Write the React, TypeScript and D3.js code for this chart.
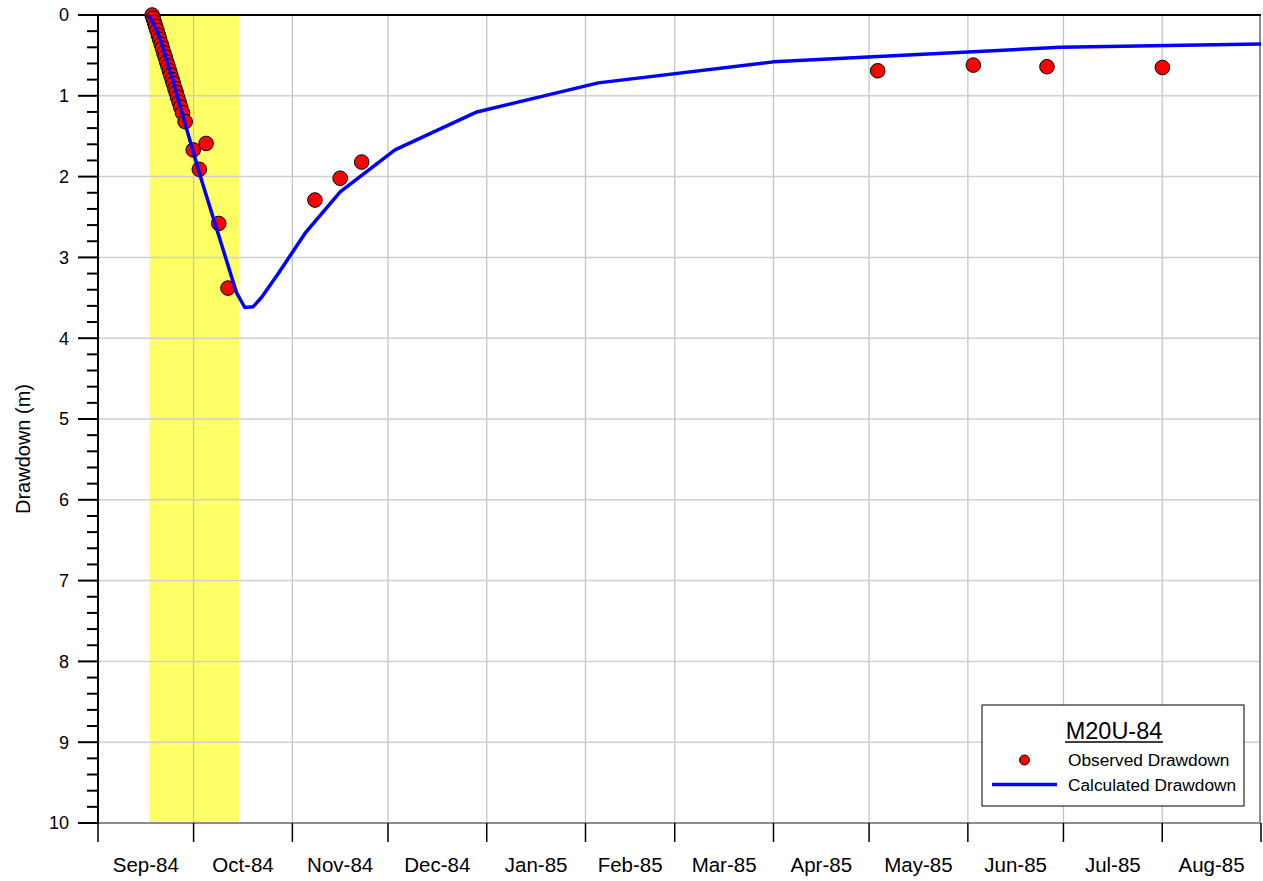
import React from "react";
import * as d3 from "d3";

const W = 1263;
const H = 881;

// Month tick labels (centered within each month)
const monthLabels = ["Sep-84", "Oct-84", "Nov-84", "Dec-84", "Jan-85", "Feb-85", "Mar-85", "Apr-85", "May-85", "Jun-85", "Jul-85", "Aug-85"];
const yTicks = [0, 1, 2, 3, 4, 5, 6, 7, 8, 9, 10];

// Pumping period (yellow band)
const pumpStart = "1984-09-17T02:00";
const pumpEnd = "1984-10-15T07:00";

// Observed drawdown (m)
const obsDates = [
  "1984-09-18T00:00", "1984-09-18T07:30", "1984-09-18T17:00", "1984-09-19T02:30", "1984-09-19T12:00",
  "1984-09-19T23:00", "1984-09-20T08:30", "1984-09-20T20:00", "1984-09-21T05:00", "1984-09-21T16:30",
  "1984-09-22T02:00", "1984-09-22T13:00", "1984-09-22T23:00", "1984-09-23T10:00", "1984-09-23T19:30",
  "1984-09-24T07:00", "1984-09-24T16:00", "1984-09-25T03:30", "1984-09-25T13:00", "1984-09-26T00:00",
  "1984-09-26T11:30", "1984-09-26T23:00", "1984-09-27T12:00", "1984-09-28T08:30",
  "1984-09-30T21:30", "1984-10-04T22:00", "1984-10-02T19:00", "1984-10-08T21:30", "1984-10-11T19:00",
  "1984-11-08T02:00", "1984-11-16T00:00", "1984-11-22T18:00",
  "1985-05-03T17:00", "1985-06-02T17:00", "1985-06-25T20:00", "1985-08-01T01:00",
];
const obsValues = [
  0.0, 0.04, 0.09, 0.14, 0.19,
  0.25, 0.3, 0.36, 0.41, 0.47,
  0.52, 0.58, 0.63, 0.69, 0.74,
  0.8, 0.85, 0.91, 0.96, 1.02,
  1.08, 1.14, 1.21, 1.32,
  1.67, 1.59, 1.91, 2.58, 3.38,
  2.29, 2.02, 1.82,
  0.69, 0.62, 0.64, 0.65,
];

// Calculated drawdown (m)
const calcDates = [
  "1984-09-16T19:00", "1984-09-18T12:00", "1984-09-20T11:00", "1984-09-24T15:00", "1984-09-28T07:00", "1984-10-03T00:00",
  "1984-10-14T12:00", "1984-10-17T02:00", "1984-10-19T17:00", "1984-10-22T10:00", "1984-10-27T14:00",
  "1984-11-05T00:00", "1984-11-16T00:00", "1984-12-03T05:00", "1984-12-28T22:00", "1985-02-05T00:00",
  "1985-04-01T00:00", "1985-06-30T00:00", "1985-09-01T00:00",
];
const calcValues = [
  0.0, 0.11, 0.29, 0.83, 1.34, 1.98,
  3.44, 3.62, 3.61, 3.49, 3.2,
  2.7, 2.19, 1.67, 1.2, 0.84,
  0.58, 0.4, 0.36,
];

const parse = d3.utcParse("%Y-%m-%dT%H:%M");
const FONT = "'Liberation Sans', Arial, sans-serif";

export default function App() {
  const left = 98, right = 1261, top = 15, bottom = 823;
  const x = d3.scaleUtc()
    .domain([parse("1984-09-01T00:00") as Date, parse("1985-09-01T00:00") as Date])
    .range([left, right]);
  const y = d3.scaleLinear().domain([0, 10]).range([top, bottom]);

  const months = d3.utcMonth.range(x.domain()[0], d3.utcMonth.offset(x.domain()[1], 1));
  const minorTicks = d3.range(0, 10.001, 0.2).filter((v) => Math.abs(v - Math.round(v)) > 1e-6);

  const obs = obsDates.map((d, i) => ({ t: parse(d) as Date, v: obsValues[i] }));
  const calc = calcDates.map((d, i) => ({ t: parse(d) as Date, v: calcValues[i] }));
  const line = d3.line<{ t: Date; v: number }>()
    .x((d) => x(d.t))
    .y((d) => y(d.v))
    .curve(d3.curveLinear);

  const bx0 = x(parse(pumpStart) as Date);
  const bx1 = x(parse(pumpEnd) as Date);

  return (
    <svg width={W} height={H} style={{ position: "absolute", left: 0, top: 0, background: "#fff" }} fontFamily={FONT}>
      <rect x={0} y={0} width={W} height={H} fill="#fff" />
      {/* pumping band */}
      <rect x={bx0} y={top} width={bx1 - bx0} height={bottom - top} fill="#ffff66" />
      {/* grid */}
      {months.slice(1, -1).map((m, i) => (
        <line key={"gx" + i} x1={x(m)} x2={x(m)} y1={top} y2={bottom} stroke="#c4c4c4" strokeWidth={1.3} />
      ))}
      {yTicks.slice(1, -1).map((v) => (
        <line key={"gy" + v} x1={left} x2={right} y1={y(v)} y2={y(v)} stroke="#cfcfcf" strokeWidth={1.5} />
      ))}
      {/* frame */}
      <line x1={left} x2={right} y1={bottom} y2={bottom} stroke="#8c8c8c" strokeWidth={2} />
      <line x1={right - 1} x2={right - 1} y1={top} y2={bottom} stroke="#8c8c8c" strokeWidth={2} />
      <line x1={left} x2={right} y1={top} y2={top} stroke="#000" strokeWidth={2} />
      <line x1={left} x2={left} y1={top - 1} y2={bottom + 1} stroke="#000" strokeWidth={2} />
      {/* x ticks */}
      {months.map((m, i) => (
        <line key={"xt" + i} x1={x(m)} x2={x(m)} y1={bottom} y2={bottom + 19} stroke="#000" strokeWidth={1.5} />
      ))}
      {monthLabels.map((lab, i) => {
        const cx = (x(months[i]) + x(months[i + 1])) / 2;
        return (
          <text key={"xl" + i} x={cx} y={872} textAnchor="middle" fontSize={20.5} fill="#000">
            {lab}
          </text>
        );
      })}
      {/* y ticks */}
      {yTicks.map((v) => (
        <line key={"yt" + v} x1={left - 20} x2={left} y1={y(v)} y2={y(v)} stroke="#000" strokeWidth={2} />
      ))}
      {minorTicks.map((v, i) => (
        <line key={"ym" + i} x1={left - 11} x2={left} y1={y(v)} y2={y(v)} stroke="#000" strokeWidth={2} />
      ))}
      {yTicks.map((v) => (
        <text key={"yl" + v} x={69} y={y(v)} dy="0.35em" textAnchor="end" fontSize={18} fill="#000">
          {v}
        </text>
      ))}
      <text transform={`translate(30,449) rotate(-90)`} textAnchor="middle" fontSize={20} fill="#000">
        Drawdown (m)
      </text>
      {/* observed */}
      {obs.map((d, i) => (
        <circle key={"o" + i} cx={x(d.t)} cy={y(d.v)} r={7.3} fill="#ff0000" stroke="#000" strokeWidth={1} />
      ))}
      {/* calculated */}
      <path d={line(calc) || ""} fill="none" stroke="#0000ff" strokeWidth={3.5} strokeLinejoin="round" />
      {/* legend */}
      <rect x={982} y={705} width={262} height={101} fill="#fff" stroke="#000" strokeWidth={1} />
      <text x={1114} y={739} textAnchor="middle" fontSize={23.5} fill="#000">M20U-84</text>
      <line x1={1065} x2={1163} y1={742} y2={742} stroke="#000" strokeWidth={1.3} />
      <circle cx={1024.5} cy={760} r={5} fill="#ff0000" stroke="#000" strokeWidth={1} />
      <text x={1068} y={760} dy="0.35em" fontSize={17.3} fill="#000">Observed Drawdown</text>
      <line x1={992} x2={1057} y1={784.5} y2={784.5} stroke="#0000ff" strokeWidth={3.5} />
      <text x={1068} y={785} dy="0.35em" fontSize={17.3} fill="#000">Calculated Drawdown</text>
    </svg>
  );
}
